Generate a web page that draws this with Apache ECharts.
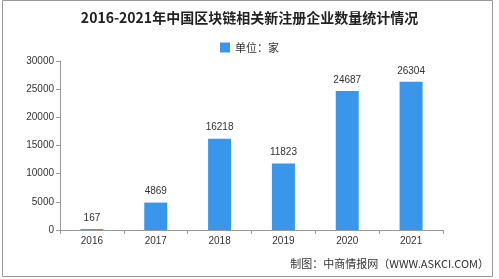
<!DOCTYPE html>
<html><head><meta charset="utf-8">
<script src="https://cdn.jsdelivr.net/npm/echarts@6/dist/echarts.min.js"></script>
<style>html,body{margin:0;padding:0;background:#fff}#c{width:499px;height:279px}</style>
</head><body><div id="c"></div>
<script>
const categories = ['2016','2017','2018','2019','2020','2021'];
const values = [167, 4869, 16218, 11823, 24687, 26304];
const seriesName = '单位：家';
const titleText = '2016-2021年中国区块链相关新注册企业数量统计情况';
const sourceText = '制图：中商情报网（WWW.ASKCI.COM）';

const chart = echarts.init(document.getElementById('c'));
chart.setOption({
  animation: false,
  backgroundColor: '#fff',
  graphic: [
    {type:'rect', shape:{x:2.5,y:0.5,width:490,height:276}, style:{fill:'none', stroke:'#999', lineWidth:1}, silent:true},
    {type:'text', right: 10, top: 258, style:{text: sourceText, font:'11px "Noto Sans CJK SC", sans-serif', fill:'#333'}}
  ],
  title: {
    text: titleText, left: 'center', top: 6,
    textStyle: {fontSize: 14, fontWeight: 'bold', color: '#222', fontFamily: '"Noto Sans CJK SC", sans-serif'}
  },
  legend: {
    data: [{name: seriesName, icon: 'rect'}], top: 37, left: 'center', itemWidth: 10, itemHeight: 10, itemGap: 4,
    textStyle: {fontSize: 11, color: '#333', fontFamily: '"Noto Sans CJK SC", sans-serif'}
  },
  grid: {left: 60, right: 56, top: 61, bottom: 49},
  xAxis: {
    type: 'category', data: categories,
    axisLine: {lineStyle: {color: '#999'}},
    axisTick: {show: true, length: 4, lineStyle: {color: '#999'}},
    axisLabel: {fontSize: 10, color: '#333', margin: 6, fontFamily: 'Arial, sans-serif'}
  },
  yAxis: {
    type: 'value', min: 0, max: 30000, interval: 5000,
    axisLine: {show: true, lineStyle: {color: '#999'}},
    axisTick: {show: true, length: 4, lineStyle: {color: '#999'}},
    splitLine: {show: false},
    axisLabel: {fontSize: 10, color: '#333', margin: 6, fontFamily: 'Arial, sans-serif', formatter: v => String(v)}
  },
  series: [{
    name: seriesName, type: 'bar', data: values, barWidth: 23,
    itemStyle: {color: '#3a96ea'},
    label: {show: true, position: 'top', fontSize: 10, color: '#333', distance: 6, fontFamily: 'Arial, sans-serif'}
  }]
});
</script></body></html>
